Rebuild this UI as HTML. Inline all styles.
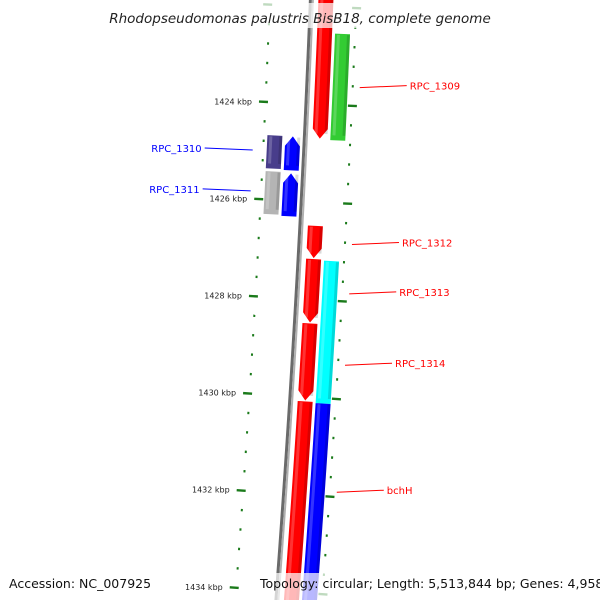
<!DOCTYPE html>
<html><head><meta charset="utf-8"><style>
html,body{margin:0;padding:0;background:#fff;width:600px;height:600px;overflow:hidden;}
svg{display:block;overflow:hidden;font-family:"DejaVu Sans","Liberation Sans",sans-serif;}
</style></head><body>
<svg id="map" width="600" height="600" viewBox="0 0 600 600" xmlns="http://www.w3.org/2000/svg">
<g id="ticks"></g>
<g id="backbone"></g>
<g id="genes"></g>
<g id="labels"></g>
<rect x="100" y="3" width="400" height="25" fill="#fff" opacity="0.72"/>
<text x="300" y="23" text-anchor="middle" font-size="13.5" font-style="italic" fill="#222">Rhodopseudomonas palustris BisB18, complete genome</text>
<text x="9" y="588" font-size="12.5" fill="#111">Accession: NC_007925</text>
<rect x="256" y="573" width="338" height="27" fill="#fff" opacity="0.72"/>
<text x="260" y="588" font-size="12.5" fill="#111">Topology: circular; Length: 5,513,844 bp; Genes: 4,958</text>
</svg>
<script>
// ---- data ----
const geneNames  = ["RPC_1309","RPC_1309b","RPC_1310a","RPC_1310","RPC_1311a","RPC_1311","RPC_1312","RPC_1313","RPC_1314","RPC_1314b","bchH"];
const geneStart  = [1420.5, 1422.54, 1424.68, 1424.68, 1425.42, 1425.44, 1426.49, 1427.17, 1428.49, 1430.09, 1427.19];
const geneEnd    = [1424.70, 1424.72, 1425.36, 1425.38, 1426.30, 1426.32, 1427.15, 1428.47, 1430.07, 1434.4, 1430.11];
const geneTrack  = [1, 2, -2, -1, -2, -1, 1, 1, 1, 1, 2];
const geneColors = ["#ff0000","#33cc33","#483d8b","#0000ff","#b4b4b4","#0000ff","#ff0000","#ff0000","#ff0000","#ff0000","#00ffff"];
const geneArrow  = [1, 0, 0, -1, 0, -1, 1, 1, 1, 0, 0];
const blueStart = [1430.11], blueEnd = [1434.4];
const majorTicks = [1424,1426,1428,1430,1432,1434];
const tickLabels = ["1424 kbp","1426 kbp","1428 kbp","1430 kbp","1432 kbp","1434 kbp"];
const labelText = ["RPC_1309","RPC_1310","RPC_1311","RPC_1312","RPC_1313","RPC_1314","bchH"];
const labelKbp  = [1423.62, 1425.0, 1425.84, 1426.83, 1427.84, 1429.3, 1431.9];
const labelSide = [1,-1,-1,1,1,1,1];
const labelColor= ["#ff0000","#0000ff","#0000ff","#ff0000","#ff0000","#ff0000","#ff0000"];

// ---- geometry ----
const CX=-16815, CY=-683, R=17140, TH0=0.04592, K=0.002847;
function pt(kbp,d){const th=TH0+(kbp-1424)*K;return [CX+(R+d)*Math.cos(th), CY+(R+d)*Math.sin(th)];}
const NS="http://www.w3.org/2000/svg";
function mk(tag,parent){const e=document.createElementNS(NS,tag);parent.appendChild(e);return e;}
function f(p){return p[0].toFixed(2)+","+p[1].toFixed(2);}
const trackD={1:[7,22],2:[25,40],"-1":[-20,-5],"-2":[-38,-23]};

// ticks
const tg=document.getElementById('ticks');
for(let k=1422;k<=1434.41;k+=0.4){
  const kk=Math.round(k*10)/10;
  const major=Math.abs(kk-Math.round(kk/2)*2)<0.01;
  [-1,1].forEach(s=>{
    const a=s<0?(major?-48:-42.5):(major?41:44), b=s<0?(major?-39:-40.5):(major?50:46);
    const p1=pt(kk,a),p2=pt(kk,b);
    const l=mk('line',tg);
    
    
    l.setAttribute('x1',p1[0]);l.setAttribute('y1',p1[1]);l.setAttribute('x2',p2[0]);l.setAttribute('y2',p2[1]);
    l.setAttribute('stroke','#1a7a1a');l.setAttribute('stroke-width','2.4');
  });
}
majorTicks.forEach((m,i)=>{
  const p=pt(m,-55);
  const t=mk('text',tg);
  
  
  t.setAttribute('x',p[0]);t.setAttribute('y',p[1]+3);t.setAttribute('text-anchor','end');
  t.setAttribute('font-size','8');t.setAttribute('fill','#222');t.textContent=tickLabels[i];
});

// backbone
const bb=document.getElementById('backbone');
function arcPts(k0,k1,d){const a=[];const n=Math.max(4,Math.ceil((k1-k0)*6));for(let i=0;i<=n;i++)a.push(pt(k0+(k1-k0)*i/n,d));return a;}
[[-1,'#6a6a6a',3],[1.5,'#b0b0b0',2]].forEach(([d,c,w])=>{
  const pl=mk('polyline',bb);
  
  
  pl.setAttribute('points',arcPts(1421.7,1434.4,d).map(f).join(' '));
  pl.setAttribute('fill','none');pl.setAttribute('stroke',c);pl.setAttribute('stroke-width',w);
});

// genes
const gg=document.getElementById('genes');
function genePoly(s,e,d1,d2,arrow){
  const H=0.2, dm=(d1+d2)/2;
  let pts=[];
  if(arrow===1){pts=arcPts(s,e-H,d1).concat([pt(e,dm)]).concat(arcPts(s,e-H,d2).reverse());}
  else if(arrow===-1){pts=[pt(s,dm)].concat(arcPts(s+H,e,d1)).concat(arcPts(s+H,e,d2).reverse());}
  else{pts=arcPts(s,e,d1).concat(arcPts(s,e,d2).reverse());}
  return pts.map(f).join(' ');
}
function drawGene(i,s,e,track,color,arrow){
  const [d1,d2]=trackD[track];
  const p=mk('polygon',gg);
  
  
  p.setAttribute('points',genePoly(s,e,d1,d2,arrow));p.setAttribute('fill',color);
  const hl=mk('polygon',gg);
  
  
  hl.setAttribute('points',genePoly(s+0.02,e-0.1,d1+2,d1+5,0));hl.setAttribute('fill','#fff');hl.setAttribute('opacity','0.2');
  const sh=mk('polygon',gg);
  
  
  sh.setAttribute('points',genePoly(s+0.02,e-0.1,d2-3,d2,0));sh.setAttribute('fill','#000');sh.setAttribute('opacity','0.15');
}
geneNames.forEach((n,i)=>drawGene(i,geneStart[i],geneEnd[i],geneTrack[i],geneColors[i],geneArrow[i]));
blueStart.forEach((s,i)=>drawGene(10,s,blueEnd[i],2,'#0000ff',0));

// labels
const lg=document.getElementById('labels');
labelText.forEach((t,i)=>{
  const side=labelSide[i];
  const a=pt(labelKbp[i],side>0?52:-52);
  const x1=a[0], y=a[1];
  const x2=side>0?x1+47:x1-48;
  const l=mk('line',lg);
  
  
  l.setAttribute('x1',x1);l.setAttribute('y1',y);l.setAttribute('x2',x2);l.setAttribute('y2',y-2);
  l.setAttribute('stroke',labelColor[i]);l.setAttribute('stroke-width','1');
  const tx=mk('text',lg);
  
  
  tx.setAttribute('x',side>0?x2+3:x2-3);tx.setAttribute('y',y+2);
  tx.setAttribute('text-anchor',side>0?'start':'end');
  tx.setAttribute('font-size','10');tx.setAttribute('fill',labelColor[i]);tx.textContent=t;
});
</script>
</body></html>
